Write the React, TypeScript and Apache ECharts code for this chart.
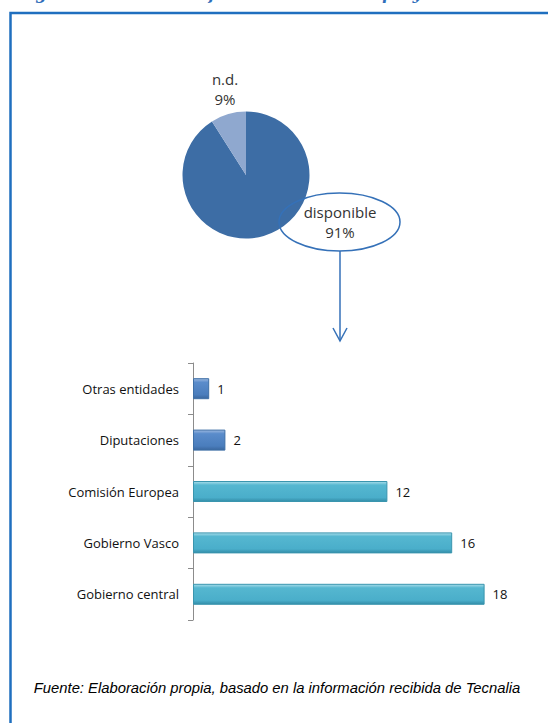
import React, { useEffect, useRef } from "react";
import * as echarts from "echarts";

const pieNames = ["disponible", "n.d."];
const pieValues = [91, 9];
const pieColors = ["#3D6DA5", "#8FA8CF"];

const barCategories = ["Gobierno central", "Gobierno Vasco", "Comisión Europea", "Diputaciones", "Otras entidades"];
const barValues = [18, 16, 12, 2, 1];
const barGroup = ["cyan", "cyan", "cyan", "blue", "blue"];

const titleText = "Figura 7: Fuentes de financiación de los proyectos de investigación (2006-2009)";
const sourceText = "Fuente: Elaboración propia, basado en la información recibida de Tecnalia";

const FONT = "'Open Sans', Lato, sans-serif";

function barStyle(group: string) {
  if (group === "blue") {
    return {
      color: new echarts.graphic.LinearGradient(0, 0, 0, 1, [
        { offset: 0, color: "#9DB9E0" },
        { offset: 0.18, color: "#5A8CCB" },
        { offset: 0.8, color: "#4A7DBC" },
        { offset: 1, color: "#3A679E" },
      ]),
      borderColor: "#3E6FA6",
      borderWidth: 1,
    };
  }
  return {
    color: new echarts.graphic.LinearGradient(0, 0, 0, 1, [
      { offset: 0, color: "#A9DDEA" },
      { offset: 0.18, color: "#55B7D0" },
      { offset: 0.8, color: "#4AAECA" },
      { offset: 1, color: "#338DA8" },
    ]),
    borderColor: "#3A95AE",
    borderWidth: 1,
  };
}

export default function App() {
  const ref = useRef<HTMLDivElement>(null);
  useEffect(() => {
    if (!ref.current) return;
    const chart = echarts.init(ref.current, null, { renderer: "svg" });
    const option: any = {
      animation: false,
      backgroundColor: "#ffffff",
      grid: { left: 193, top: 363, width: 324, height: 257, containLabel: false },
      xAxis: {
        type: "value",
        min: 0,
        max: 20,
        show: false,
      },
      yAxis: {
        type: "category",
        data: barCategories,
        axisLine: { show: true, lineStyle: { color: "#8C8C8C", width: 1 } },
        axisTick: { show: true, length: 5, lineStyle: { color: "#8C8C8C" } },
        axisLabel: { color: "#111111", fontSize: 13, fontFamily: FONT, margin: 14 },
        splitLine: { show: false },
      },
      series: [
        {
          type: "bar",
          data: barValues.map((v, i) => ({ value: v, itemStyle: barStyle(barGroup[i]) })),
          barWidth: 21,
          label: {
            show: true,
            position: "right",
            distance: 8,
            color: "#111111",
            fontSize: 13,
            fontFamily: FONT,
          },
        },
        {
          type: "pie",
          center: [246, 175],
          radius: 63.5,
          startAngle: 90,
          clockwise: true,
          label: { show: false },
          labelLine: { show: false },
          silent: true,
          data: pieNames.map((n, i) => ({ name: n, value: pieValues[i], itemStyle: { color: pieColors[i] } })),
        },
      ],
      graphic: [
        {
          type: "text",
          left: 18,
          top: -15,
          style: {
            text: titleText,
            font: "italic bold 16px 'DejaVu Serif', serif",
            fill: "#2F6EBA",
          },
          z: 1,
        },
        {
          type: "rect",
          shape: { x: 10.5, y: 13, width: 700, height: 900 },
          style: { fill: "none", stroke: "#1F6FBF", lineWidth: 2.5 },
          z: 0,
          silent: true,
        },
        {
          type: "ellipse",
          shape: { cx: 339.5, cy: 222, rx: 60.5, ry: 29 },
          style: { fill: "none", stroke: "#3571B8", lineWidth: 1.5 },
          z: 10,
        },
        {
          type: "line",
          shape: { x1: 340, y1: 251, x2: 340, y2: 341 },
          style: { stroke: "#3571B8", lineWidth: 1.5 },
          z: 10,
        },
        {
          type: "polyline",
          shape: { points: [[333, 328], [340, 341], [347, 328]] },
          style: { stroke: "#3571B8", lineWidth: 1.5, fill: "none" },
          z: 10,
        },
        {
          type: "text",
          x: 225,
          y: 89,
          style: {
            text: `${pieNames[1]}\n${pieValues[1]}%`,
            font: `15px ${FONT}`,
            fill: "#333333",
            align: "center",
            verticalAlign: "middle",
            lineHeight: 20,
          },
          z: 11,
        },
        {
          type: "text",
          x: 340,
          y: 222,
          style: {
            text: `${pieNames[0]}\n${pieValues[0]}%`,
            font: `15px ${FONT}`,
            fill: "#333333",
            align: "center",
            verticalAlign: "middle",
            lineHeight: 20,
          },
          z: 11,
        },
        {
          type: "text",
          x: 277,
          y: 688,
          style: {
            text: sourceText,
            font: "italic 14.8px 'Liberation Sans', Arial, sans-serif",
            fill: "#000000",
            align: "center",
            verticalAlign: "middle",
          },
          z: 11,
        },
      ],
    };
    chart.setOption(option);
    return () => chart.dispose();
  }, []);
  return (
    <div
      ref={ref}
      style={{ position: "fixed", left: 0, top: 0, width: 548, height: 723, background: "#fff" }}
    />
  );
}
